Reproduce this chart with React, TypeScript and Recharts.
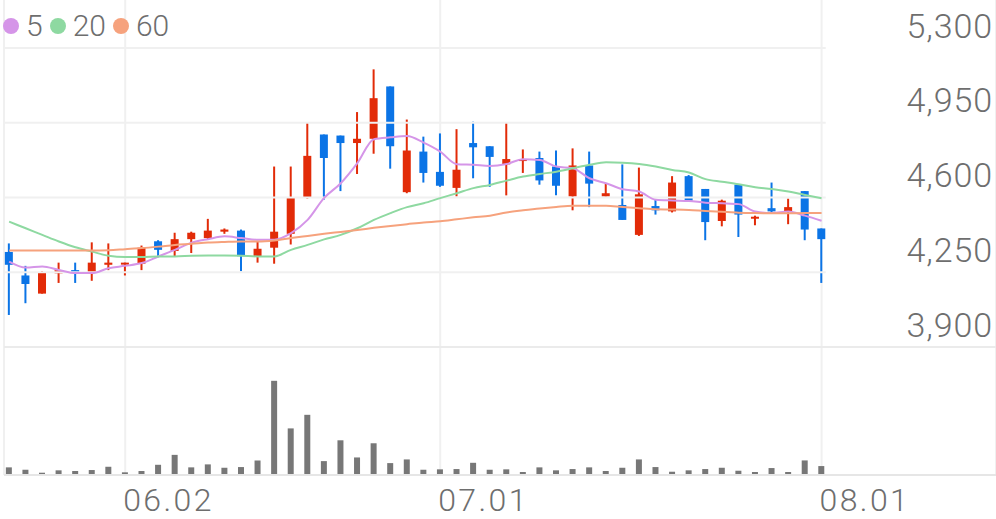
import { Bar, BarChart, CartesianGrid, ComposedChart, Line, ReferenceLine, XAxis, YAxis } from 'recharts';

const dates = [
  '05.22', '05.23', '05.26', '05.27', '05.28', '05.29', '05.30', '06.02', '06.04', '06.05',
  '06.09', '06.10', '06.11', '06.12', '06.13', '06.16', '06.17', '06.18', '06.19', '06.20',
  '06.23', '06.24', '06.25', '06.26', '06.27', '06.30', '07.01', '07.02', '07.03', '07.04',
  '07.07', '07.08', '07.09', '07.10', '07.11', '07.14', '07.15', '07.16', '07.17', '07.18',
  '07.21', '07.22', '07.23', '07.24', '07.25', '07.28', '07.29', '07.30', '07.31', '08.01',
];
const opens = [
  4345, 4235, 4150, 4245, 4260, 4250, 4285, 4290, 4290, 4395,
  4350, 4405, 4410, 4440, 4445, 4325, 4365, 4430, 4600, 4895,
  4890, 4855, 4875, 5120, 4625, 4815, 4720, 4645, 4855, 4840,
  4755, 4775, 4785, 4745, 4605, 4750, 4605, 4565, 4425, 4560,
  4535, 4700, 4640, 4490, 4660, 4505, 4550, 4535, 4630, 4455,
];
const highs = [
  4385, 4280, 4255, 4295, 4295, 4390, 4385, 4295, 4375, 4400,
  4435, 4440, 4500, 4455, 4450, 4395, 4745, 4745, 4950, 4895,
  4890, 5000, 5200, 5120, 4965, 4885, 4900, 4920, 4955, 4840,
  4950, 4825, 4815, 4820, 4830, 4815, 4665, 4755, 4740, 4590,
  4700, 4705, 4640, 4590, 4660, 4515, 4670, 4595, 4630, 4455,
];
const lows = [
  4050, 4105, 4150, 4200, 4200, 4210, 4260, 4235, 4260, 4320,
  4325, 4340, 4405, 4430, 4255, 4295, 4290, 4380, 4595, 4590,
  4630, 4710, 4805, 4735, 4620, 4670, 4650, 4605, 4690, 4650,
  4610, 4715, 4660, 4610, 4540, 4555, 4605, 4495, 4420, 4520,
  4530, 4580, 4400, 4465, 4415, 4470, 4530, 4475, 4400, 4200,
];
const closes = [
  4285, 4195, 4250, 4260, 4250, 4295, 4295, 4295, 4365, 4355,
  4405, 4435, 4445, 4450, 4325, 4360, 4440, 4600, 4795, 4785,
  4855, 4875, 5065, 4840, 4820, 4715, 4655, 4730, 4835, 4790,
  4780, 4780, 4680, 4655, 4750, 4665, 4620, 4495, 4615, 4540,
  4670, 4585, 4485, 4585, 4520, 4510, 4535, 4555, 4450, 4405,
];
// thousand shares
const volumes = [
  67, 43, 13, 37, 30, 40, 73, 17, 30, 93,
  193, 67, 97, 63, 70, 137, 940, 460, 597, 130,
  340, 167, 310, 110, 147, 43, 47, 50, 113, 43,
  47, 20, 67, 37, 50, 67, 30, 63, 147, 70,
  23, 37, 50, 63, 33, 20, 60, 20, 137, 80,
];
const ma5 = [
  4300, 4272, 4277, 4261, 4246, 4246, 4269, 4280, 4293, 4324,
  4355, 4388, 4405, 4418, 4410, 4402, 4402, 4433, 4495, 4598,
  4667, 4761, 4873, 4882, 4888, 4857, 4815, 4756, 4753, 4748,
  4757, 4779, 4776, 4745, 4737, 4690, 4667, 4639, 4628, 4589,
  4586, 4584, 4576, 4573, 4569, 4534, 4527, 4534, 4515, 4491,
];
const ma20 = [
  4487, 4456, 4425, 4394, 4367, 4347, 4327, 4321, 4321, 4324,
  4324, 4327, 4328, 4328, 4327, 4324, 4324, 4355, 4378, 4404,
  4425, 4456, 4495, 4527, 4555, 4573, 4597, 4620, 4644, 4659,
  4679, 4698, 4710, 4721, 4737, 4753, 4765, 4763, 4757, 4745,
  4729, 4717, 4686, 4674, 4662, 4648, 4640, 4628, 4612, 4597,
];
const ma60 = [
  4352, 4352, 4352, 4352, 4352, 4352, 4353, 4358, 4363, 4370,
  4378, 4383, 4389, 4392, 4394, 4394, 4399, 4410, 4420, 4430,
  4439, 4448, 4458, 4467, 4475, 4483, 4489, 4498, 4507, 4515,
  4530, 4540, 4549, 4556, 4561, 4561, 4561, 4555, 4550, 4545,
  4544, 4542, 4537, 4533, 4529, 4527, 4526, 4526, 4527, 4527,
];
const priceTicks = [3900, 4250, 4600, 4950, 5300];
const dateTicks = ['06.02', '07.01', '08.01'];

const UP = '#e22b08';
const DOWN = '#0b74e6';
const LABEL = '#6e6e6e';
const GRID = '#f0f0f0';
const FONT = 'Roboto, sans-serif';
const MA_LINES = [
  { key: 'ma5', label: '5', color: '#d595e8' },
  { key: 'ma20', label: '20', color: '#8ed9a1' },
  { key: 'ma60', label: '60', color: '#f6a27d' },
];

const rows = dates.map((date, i) => ({
  i,
  date,
  open: opens[i],
  high: highs[i],
  low: lows[i],
  close: closes[i],
  volume: volumes[i],
  ma5: ma5[i],
  ma20: ma20[i],
  ma60: ma60[i],
}));
const tickIdx = dateTicks.map((d) => dates.indexOf(d));
const lastIdx = rows.length - 1;

const X_DOMAIN: [number, number] = [-0.31, 59.52];
const PRICE_DOMAIN: [number, number] = [3300.7, 5524.75];

function Candle(props: any) {
  const { x, y, width, height, payload } = props;
  const { open, close, high, low } = payload;
  const color = close >= open ? UP : DOWN;
  const h = Math.abs(height);
  const top = height < 0 ? y + height : y;
  const k = high === low ? 0 : h / (high - low);
  const yOf = (v: number) => top + (high - v) * k;
  const cx = x + width / 2;
  const bodyTop = yOf(Math.max(open, close));
  const bodyH = Math.max(2, Math.abs(yOf(open) - yOf(close)));
  return (
    <g>
      <line x1={cx} x2={cx} y1={top} y2={top + h} stroke={color} strokeWidth={2} />
      <rect x={x} y={bodyTop} width={width} height={bodyH} fill={color} />
    </g>
  );
}

const DateTick = ({ x, payload }: any) => (
  <text x={x - 2} y={511} fill={LABEL} fontSize={32} letterSpacing={2.4} fontFamily={FONT} fontWeight={300}>
    {dates[payload.value]}
  </text>
);

const PriceTick = ({ y, payload }: any) => (
  <text x={993} y={y - 10.5} textAnchor="end" fill={LABEL} fontSize={34} letterSpacing={0.9} fontFamily={FONT} fontWeight={300}>
    {payload.value.toLocaleString('en-US')}
  </text>
);

function MaLegend() {
  return (
    <div style={{ position: 'absolute', left: 3, top: 8, display: 'flex', alignItems: 'center', fontFamily: FONT, fontWeight: 300, fontSize: 30, color: LABEL, lineHeight: '36px' }}>
      {MA_LINES.map((m) => (
        <span key={m.key} style={{ display: 'flex', alignItems: 'center', marginRight: 7 }}>
          <span style={{ width: 16, height: 16, borderRadius: 8, background: m.color, marginRight: 7 }} />
          {m.label}
        </span>
      ))}
    </div>
  );
}

export default function App() {
  return (
    <div style={{ position: 'absolute', left: 0, top: 0, width: 996, height: 519, background: '#fff' }}>
      <div style={{ position: 'absolute', left: 0, top: 0 }}>
        <ComposedChart width={996} height={519} data={rows} margin={{ top: 0, right: 0, bottom: 0, left: 4 }}>
          <CartesianGrid horizontal={false} stroke={GRID} strokeWidth={2} />
          <XAxis
            dataKey="i"
            type="number"
            domain={X_DOMAIN}
            allowDataOverflow
            ticks={tickIdx}
            interval={0}
            height={44}
            axisLine={{ stroke: '#e6e6e6', strokeWidth: 2 }}
            tickLine={false}
            tick={<DateTick />}
          />
          <YAxis
            type="number"
            orientation="right"
            mirror
            domain={PRICE_DOMAIN}
            allowDataOverflow
            ticks={priceTicks}
            axisLine={false}
            tickLine={false}
            tick={<PriceTick />}
          />
          {priceTicks.slice(1).map((t) => (
            <ReferenceLine
              key={t}
              segment={[{ x: X_DOMAIN[0], y: t }, { x: lastIdx + 0.25, y: t }]}
              stroke={GRID}
              strokeWidth={2}
            />
          ))}
          <ReferenceLine y={priceTicks[0]} stroke="#ebebeb" strokeWidth={2} />
          {MA_LINES.map((m) => (
            <Line
              key={m.key}
              dataKey={m.key}
              type="monotone"
              stroke={m.color}
              strokeWidth={2}
              dot={false}
              activeDot={false}
              isAnimationActive={false}
            />
          ))}
          <Bar
            dataKey={(d: any) => [d.low, d.high]}
            barSize={8}
            shape={<Candle />}
            isAnimationActive={false}
          />
        </ComposedChart>
      </div>
      <div style={{ position: 'absolute', left: 0, top: 0 }}>
        <BarChart width={996} height={519} data={rows} margin={{ top: 360, right: 0, bottom: 45, left: 4 }}>
          <XAxis dataKey="i" type="number" domain={X_DOMAIN} allowDataOverflow hide />
          <YAxis domain={[0, 1150]} allowDataOverflow hide />
          <Bar dataKey="volume" fill="#777777" barSize={6} isAnimationActive={false} />
        </BarChart>
      </div>
      <MaLegend />
    </div>
  );
}
